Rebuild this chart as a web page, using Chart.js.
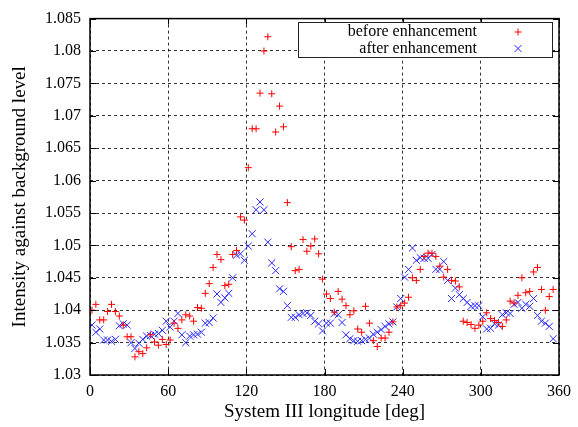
<!DOCTYPE html>
<html>
<head>
<meta charset="utf-8">
<script src="https://cdn.jsdelivr.net/npm/chart.js@4.4.1/dist/chart.umd.min.js"></script>
<style>
  html, body { margin: 0; padding: 0; background: #fff; }
  canvas { display: block; }
</style>
</head>
<body>
<canvas id="chart" width="578" height="427"></canvas>
<script>
// System III longitude of each sample [deg]
const longitude = [
  1.5, 4.5, 7.5, 10.5, 13.5, 16.5, 19.5, 22.5, 25.5, 28.5,
  31.5, 34.5, 37.5, 40.5, 43.5, 46.5, 49.5, 52.5, 55.5, 58.5,
  61.5, 64.5, 67.5, 70.5, 73.5, 76.5, 79.5, 82.5, 85.5, 88.5,
  91.5, 94.5, 97.5, 100.5, 103.5, 106.5, 109.5, 112.5, 115.5, 118.5,
  121.5, 124.5, 127.5, 130.5, 133.5, 136.5, 139.5, 142.5, 145.5, 148.5,
  151.5, 154.5, 157.5, 160.5, 163.5, 166.5, 169.5, 172.5, 175.5, 178.5,
  181.5, 184.5, 187.5, 190.5, 193.5, 196.5, 199.5, 202.5, 205.5, 208.5,
  211.5, 214.5, 217.5, 220.5, 223.5, 226.5, 229.5, 232.5, 235.5, 238.5,
  241.5, 244.5, 247.5, 250.5, 253.5, 256.5, 259.5, 262.5, 265.5, 268.5,
  271.5, 274.5, 277.5, 280.5, 283.5, 286.5, 289.5, 292.5, 295.5, 298.5,
  301.5, 304.5, 307.5, 310.5, 313.5, 316.5, 319.5, 322.5, 325.5, 328.5,
  331.5, 334.5, 337.5, 340.5, 343.5, 346.5, 349.5, 352.5, 355.5
];

// intensity before enhancement (red +)
const beforeValues = [
  1.0400, 1.0409, 1.0385, 1.0385, 1.0398, 1.0409, 1.0398, 1.0391, 1.0377, 1.0359,
  1.0359, 1.0328, 1.0336, 1.0333, 1.0342, 1.0362, 1.0351, 1.0346, 1.0355, 1.0347,
  1.0354, 1.0380, 1.0372, 1.0385, 1.0393, 1.0391, 1.0383, 1.0404, 1.0403, 1.0426,
  1.0441, 1.0466, 1.0486, 1.0478, 1.0438, 1.0440, 1.0486, 1.0492, 1.0544, 1.0539,
  1.0620, 1.0680, 1.0680, 1.0735, 1.0800, 1.0822, 1.0734, 1.0675, 1.0715, 1.0683,
  1.0566, 1.0498, 1.0461, 1.0463, 1.0509, 1.0491, 1.0499, 1.0510, 1.0487, 1.0448,
  1.0425, 1.0418, 1.0397, 1.0429, 1.0417, 1.0407, 1.0393, 1.0399, 1.0371, 1.0366,
  1.0406, 1.0380, 1.0353, 1.0344, 1.0357, 1.0357, 1.0366, 1.0382, 1.0405, 1.0407,
  1.0411, 1.0420, 1.0450, 1.0446, 1.0463, 1.0483, 1.0488, 1.0488, 1.0483, 1.0468,
  1.0451, 1.0463, 1.0446, 1.0445, 1.0436, 1.0383, 1.0381, 1.0378, 1.0372, 1.0377,
  1.0383, 1.0396, 1.0387, 1.0384, 1.0381, 1.0375, 1.0385, 1.0414, 1.0411, 1.0423,
  1.0450, 1.0427, 1.0429, 1.0459, 1.0466, 1.0432, 1.0400, 1.0421, 1.0432
];

// intensity after enhancement (blue x)
const afterValues = [
  1.0377, 1.0366, 1.0371, 1.0354, 1.0354, 1.0352, 1.0355, 1.0376, 1.0379, 1.0377,
  1.0350, 1.0341, 1.0349, 1.0355, 1.0360, 1.0361, 1.0363, 1.0364, 1.0369, 1.0383,
  1.0374, 1.0383, 1.0395, 1.0362, 1.0350, 1.0360, 1.0362, 1.0363, 1.0366, 1.0380,
  1.0381, 1.0388, 1.0425, 1.0412, 1.0419, 1.0426, 1.0450, 1.0485, 1.0487, 1.0477,
  1.0499, 1.0518, 1.0555, 1.0567, 1.0555, 1.0505, 1.0473, 1.0461, 1.0433, 1.0429,
  1.0407, 1.0389, 1.0389, 1.0393, 1.0395, 1.0396, 1.0392, 1.0383, 1.0379, 1.0368,
  1.0380, 1.0380, 1.0395, 1.0393, 1.0381, 1.0362, 1.0356, 1.0353, 1.0352, 1.0353,
  1.0355, 1.0357, 1.0363, 1.0366, 1.0370, 1.0375, 1.0379, 1.0382, 1.0405, 1.0418,
  1.0451, 1.0463, 1.0496, 1.0477, 1.0481, 1.0480, 1.0480, 1.0486, 1.0463, 1.0463,
  1.0475, 1.0446, 1.0418, 1.0434, 1.0424, 1.0418, 1.0412, 1.0406, 1.0407, 1.0407,
  1.0390, 1.0371, 1.0372, 1.0379, 1.0377, 1.0393, 1.0396, 1.0395, 1.0409, 1.0412,
  1.0403, 1.0409, 1.0406, 1.0418, 1.0392, 1.0383, 1.0380, 1.0375, 1.0356
];

const xTicks = [0, 60, 120, 180, 240, 300, 360];
const yTicks = [1.03, 1.035, 1.04, 1.045, 1.05, 1.055, 1.06, 1.065, 1.07, 1.075, 1.08, 1.085];
const yTickLabels = ['1.03', '1.035', '1.04', '1.045', '1.05', '1.055', '1.06', '1.065', '1.07', '1.075', '1.08', '1.085'];

const seriesLabels = ['before enhancement', 'after enhancement'];

const FONT = "'Liberation Serif', 'Times New Roman', serif";
Chart.defaults.font.family = FONT;
Chart.defaults.color = '#000';

function toPoints(values) {
  return values.map((v, i) => ({ x: longitude[i], y: v }));
}

// gnuplot style frame, inward ticks and key box
const framePlugin = {
  id: 'frame',
  afterDraw(chart) {
    const { ctx, chartArea: a, scales } = chart;
    ctx.save();
    ctx.strokeStyle = '#000';
    ctx.lineWidth = 1;
    ctx.setLineDash([]);
    ctx.beginPath();
    xTicks.forEach(v => {
      const px = Math.round(scales.x.getPixelForValue(v)) + 0.5;
      ctx.moveTo(px, a.bottom); ctx.lineTo(px, a.bottom - 6);
      ctx.moveTo(px, a.top); ctx.lineTo(px, a.top + 6);
    });
    yTicks.forEach(v => {
      const py = Math.round(scales.y.getPixelForValue(v)) + 0.5;
      ctx.moveTo(a.left, py); ctx.lineTo(a.left + 6, py);
      ctx.moveTo(a.right, py); ctx.lineTo(a.right - 6, py);
    });
    ctx.stroke();
    ctx.lineWidth = 1.5;
    ctx.strokeRect(a.left, a.top, a.right - a.left, a.bottom - a.top);

    // key
    const bx = 298, by = 22, bw = 254, bh = 35;
    ctx.fillStyle = '#fff';
    ctx.fillRect(bx, by, bw, bh);
    ctx.lineWidth = 1;
    ctx.strokeStyle = '#222';
    ctx.strokeRect(bx + 0.5, by + 0.5, bw, bh);

    ctx.font = '16px ' + FONT;
    ctx.fillStyle = '#000';
    ctx.textAlign = 'right';
    ctx.textBaseline = 'middle';
    const rows = [by + 10, by + 26.5];
    chart.data.datasets.forEach((ds, i) => {
      ctx.fillText(ds.label, 477, rows[i]);
      ctx.strokeStyle = ds.borderColor;
      ctx.lineWidth = 1;
      ctx.beginPath();
      const cx = 518, cy = rows[i];
      if (ds.pointStyle === 'cross') {
        ctx.moveTo(cx - 3.5, cy); ctx.lineTo(cx + 3.5, cy);
        ctx.moveTo(cx, cy - 3.5); ctx.lineTo(cx, cy + 3.5);
      } else {
        ctx.moveTo(cx - 3.5, cy - 3.5); ctx.lineTo(cx + 3.5, cy + 3.5);
        ctx.moveTo(cx - 3.5, cy + 3.5); ctx.lineTo(cx + 3.5, cy - 3.5);
      }
      ctx.stroke();
    });
    ctx.restore();
  }
};

const ctx = document.getElementById('chart').getContext('2d');

new Chart(ctx, {
  type: 'scatter',
  data: {
    datasets: [
      {
        label: seriesLabels[0],
        data: toPoints(beforeValues),
        pointStyle: 'cross',
        pointRadius: 3.5,
        borderColor: 'rgb(255, 0, 0)',
        backgroundColor: 'rgb(255, 0, 0)',
        borderWidth: 1
      },
      {
        label: seriesLabels[1],
        data: toPoints(afterValues),
        pointStyle: 'crossRot',
        pointRadius: 5,
        borderColor: 'rgb(40, 40, 255)',
        backgroundColor: 'rgb(40, 40, 255)',
        borderWidth: 1
      }
    ]
  },
  options: {
    responsive: false,
    animation: false,
    layout: { padding: { left: 0, top: 17, right: 17, bottom: 0 } },
    plugins: {
      legend: { display: false },
      tooltip: { enabled: false }
    },
    scales: {
      x: {
        type: 'linear',
        min: 0,
        max: 360,
        afterBuildTicks: s => { s.ticks = xTicks.map(v => ({ value: v })); },
        afterFit: s => { s.height = 52; },
        ticks: {
          font: { size: 16 },
          padding: 7,
          maxRotation: 0,
          callback: v => String(v)
        },
        grid: { color: 'rgba(0,0,0,0.8)', lineWidth: 1, drawTicks: false },
        border: { display: false, dash: [3, 3] },
        title: {
          display: true,
          text: 'System III longitude [deg]',
          font: { size: 19 },
          padding: { top: 0, bottom: 4 }
        }
      },
      y: {
        type: 'linear',
        min: 1.03,
        max: 1.085,
        afterBuildTicks: s => { s.ticks = yTicks.map(v => ({ value: v })); },
        afterFit: s => { s.width = 90; },
        ticks: {
          font: { size: 16 },
          padding: 9,
          callback: (v, i) => yTickLabels[i]
        },
        grid: { color: 'rgba(0,0,0,0.8)', lineWidth: 1, drawTicks: false },
        border: { display: false, dash: [3, 3] },
        title: {
          display: true,
          text: 'Intensity against background level',
          font: { size: 19 },
          padding: { top: 9, bottom: 0 }
        }
      }
    }
  },
  plugins: [framePlugin]
});
</script>
</body>
</html>
